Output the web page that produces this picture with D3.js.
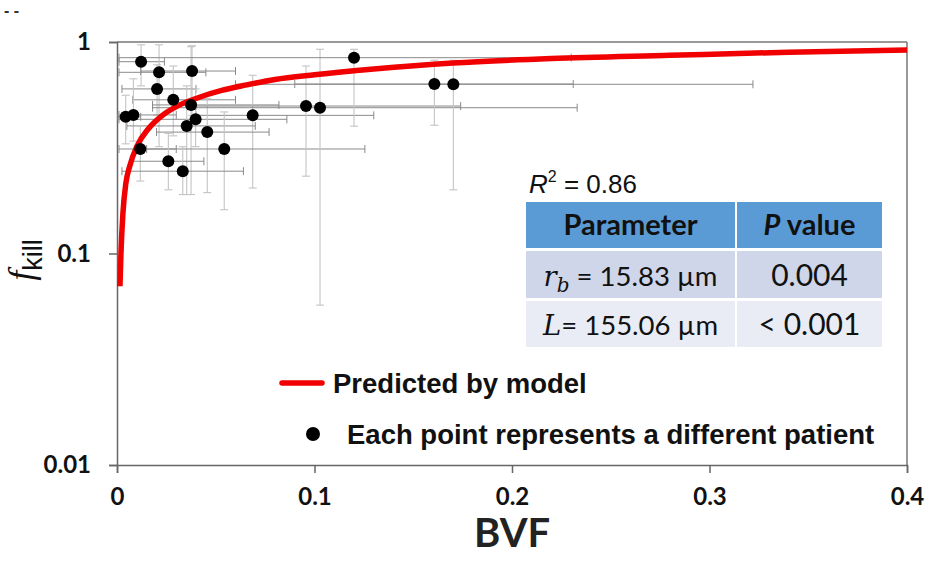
<!DOCTYPE html>
<html>
<head>
<meta charset="utf-8">
<script src="https://cdn.jsdelivr.net/npm/d3@7/dist/d3.min.js"></script>
<style>
  body { margin: 0; background: #fff; }
  svg { display: block; }
</style>
</head>
<body>
<div id="chart"></div>
<script>
// Patient points
const bvf      = [0.0122, 0.0213, 0.038, 0.0203, 0.0285, 0.0375, 0.0044, 0.0083, 0.0687, 0.0398, 0.0353,
                  0.0457, 0.0118, 0.0543, 0.026, 0.0333, 0.0957, 0.1028, 0.12, 0.1607, 0.1703];
const fkill    = [0.807, 0.719, 0.729, 0.600, 0.533, 0.504, 0.443, 0.452, 0.450, 0.431, 0.401,
                  0.375, 0.312, 0.312, 0.273, 0.245, 0.498, 0.489, 0.843, 0.633, 0.631];
const bvfLo    = [0.001, 0.001, 0.012, 0.0025, 0.008, 0.018, 0.0005, 0.001, 0.04, 0.001, 0.005,
                  0.02, 0.001, 0.015, 0.0076, 0.0025, 0.04, 0.018, 0.001, 0.09, 0.06];
const bvfHi    = [0.024, 0.045, 0.06, 0.04, 0.06, 0.082, 0.012, 0.03, 0.13, 0.086, 0.07,
                  0.077, 0.03, 0.1255, 0.044, 0.064, 0.174, 0.233, 0.23, 0.231, 0.322];
const fkillLo  = [0.62, 0.32, 0.45, 0.45, 0.36, 0.19, 0.33, 0.34, 0.204, 0.32, 0.19,
                  0.194, 0.22, 0.161, 0.2, 0.19, 0.232, 0.057, 0.4, 0.404, 0.2];
const fkillHi  = [0.97, 0.97, 0.96, 0.78, 0.77, 0.95, 0.56, 0.67, 0.696, 0.6, 0.62,
                  0.54, 0.4, 0.467, 0.37, 0.32, 0.77, 0.924, 0.924, 0.82, 0.82];

// Model curve, sampled off the figure
const curveBvf   = [0.0015, 0.002, 0.003, 0.0045, 0.0065, 0.01, 0.016, 0.023, 0.031, 0.041, 0.053,
                    0.065, 0.08, 0.1, 0.13, 0.17, 0.22, 0.28, 0.34, 0.4];
const curveFkill = [0.07, 0.1, 0.155, 0.215, 0.26, 0.32, 0.39, 0.45, 0.5, 0.545, 0.59,
                    0.625, 0.665, 0.7, 0.745, 0.795, 0.835, 0.865, 0.895, 0.917];

const xTicks = [0, 0.1, 0.2, 0.3, 0.4];
const yTicks = [0.01, 0.1, 1];

const tableHeader = ["Parameter", "P value"];
const tableRows = [
  ["r_b", " = 15.83 µm", "0.004"],
  ["L", "= 155.06 µm", "< 0.001"]
];

const width = 929, height = 561;
const mLeft = 117, mRight = 907, mTop = 42, mBottom = 465;

const svg = d3.select("#chart").append("svg")
  .attr("width", width).attr("height", height);

const x = d3.scaleLinear().domain([0, 0.4]).range([mLeft, mRight]);
const y = d3.scaleLog().domain([0.01, 1]).range([mBottom, mTop]);

const tickFont = "Lato, 'Open Sans', sans-serif";

// frame
svg.append("line").attr("x1", mLeft).attr("x2", mRight).attr("y1", mTop).attr("y2", mTop)
  .attr("stroke", "#777").attr("stroke-width", 1.5);
svg.append("line").attr("x1", mRight).attr("x2", mRight).attr("y1", mTop).attr("y2", mBottom)
  .attr("stroke", "#777").attr("stroke-width", 1.5);

// axes
const xAxis = svg.append("g").attr("transform", `translate(0,${mBottom})`)
  .call(d3.axisBottom(x).tickValues(xTicks).tickSize(8).tickPadding(15)
    .tickFormat(d => d === 0 ? "0" : d3.format(".1f")(d)));
const yAxis = svg.append("g").attr("transform", `translate(${mLeft},0)`)
  .call(d3.axisLeft(y).tickValues(yTicks).tickSize(8).tickPadding(18)
    .tickFormat(d => d >= 1 ? "1" : d3.format(".2~f")(d)));

[xAxis, yAxis].forEach(g => {
  g.select(".domain").attr("stroke", "#666").attr("stroke-width", 1.5);
  g.selectAll(".tick line").attr("stroke", "#666").attr("stroke-width", 1.5);
  g.selectAll(".tick text").attr("fill", "#111").attr("font-family", tickFont)
    .attr("font-weight", "bold").attr("font-size", 24);
});

// error bars
const pts = bvf.map((v, i) => ({x: v, y: fkill[i], xl: bvfLo[i], xh: bvfHi[i], yl: fkillLo[i], yh: fkillHi[i]}));
const cap = 4;
const eb = svg.append("g");
pts.forEach(p => {
  eb.append("line").attr("x1", x(p.x)).attr("x2", x(p.x)).attr("y1", y(p.yl)).attr("y2", y(p.yh))
    .attr("stroke", "#c4c4c4").attr("stroke-width", 1.1);
  [p.yl, p.yh].forEach(v => eb.append("line")
    .attr("x1", x(p.x) - cap).attr("x2", x(p.x) + cap).attr("y1", y(v)).attr("y2", y(v))
    .attr("stroke", "#c4c4c4").attr("stroke-width", 1.1));
  eb.append("line").attr("x1", x(p.xl)).attr("x2", x(p.xh)).attr("y1", y(p.y)).attr("y2", y(p.y))
    .attr("stroke", "#8a8a8a").attr("stroke-width", 1);
  [p.xl, p.xh].forEach(v => eb.append("line")
    .attr("x1", x(v)).attr("x2", x(v)).attr("y1", y(p.y) - cap).attr("y2", y(p.y) + cap)
    .attr("stroke", "#8a8a8a").attr("stroke-width", 1));
});

// model curve
const line = d3.line().x(d => x(d[0])).y(d => y(d[1])).curve(d3.curveMonotoneX);
svg.append("path").datum(curveBvf.map((v, i) => [v, curveFkill[i]]))
  .attr("d", line).attr("fill", "none").attr("stroke", "#f00000").attr("stroke-width", 5.5);

// points
svg.append("g").selectAll("circle").data(pts).join("circle")
  .attr("cx", d => x(d.x)).attr("cy", d => y(d.y)).attr("r", 6).attr("fill", "#000");

// axis titles
svg.append("text").attr("x", (mLeft + mRight) / 2).attr("y", 547).attr("text-anchor", "middle")
  .attr("font-family", tickFont).attr("font-weight", "bold").attr("font-size", 40).attr("fill", "#222")
  .text("BVF");
const yt = svg.append("text").attr("transform", "translate(33,260) rotate(-90)")
  .attr("text-anchor", "middle").attr("font-family", "Liberation Sans, Arial, sans-serif")
  .attr("font-size", 27).attr("fill", "#111");
yt.append("tspan").attr("font-family", "'Liberation Serif', serif").attr("font-style", "italic")
  .attr("font-size", 36).text("f");
yt.append("tspan").attr("dy", 9).text("kill");

// R^2 + table
const rt = svg.append("text").attr("x", 529).attr("y", 193)
  .attr("font-family", "Liberation Sans, Arial, sans-serif").attr("font-size", 26).attr("fill", "#111");
rt.append("tspan").attr("font-style", "italic").text("R");
rt.append("tspan").attr("font-size", 16).attr("dy", -11).text("2");
rt.append("tspan").attr("dy", 11).text(" = 0.86");

const colX = [526, 737], colW = [209, 145];
const rowY = [202, 251, 301], rowH = [46, 47, 46];
const rowFill = ["#5b9bd5", "#cfd6ea", "#e9ecf5"];
const tableFont = "Lato, 'Open Sans', sans-serif";
rowY.forEach((ry, r) => colX.forEach((cx, c) => {
  svg.append("rect").attr("x", cx).attr("y", ry).attr("width", colW[c]).attr("height", rowH[r])
    .attr("fill", rowFill[r]);
}));
svg.append("text").attr("x", colX[0] + colW[0] / 2).attr("y", 235).attr("text-anchor", "middle")
  .attr("font-family", tableFont).attr("font-weight", "bold").attr("font-size", 29).attr("fill", "#111")
  .text(tableHeader[0]);
const hdr2 = svg.append("text").attr("x", colX[1] + colW[1] / 2).attr("y", 235).attr("text-anchor", "middle")
  .attr("font-family", tableFont).attr("font-weight", "bold").attr("font-size", 29).attr("fill", "#111");
hdr2.append("tspan").attr("font-style", "italic").text(tableHeader[1].split(" ")[0]);
hdr2.append("tspan").text(" " + tableHeader[1].split(" ")[1]);

tableRows.forEach((row, i) => {
  const by = [286, 335][i];
  const t = svg.append("text").attr("x", colX[0] + colW[0] / 2).attr("y", by).attr("text-anchor", "middle")
    .attr("font-family", tableFont).attr("font-size", 27.5).attr("fill", "#111");
  const sym = row[0].split("_");
  t.append("tspan").attr("font-family", "'DejaVu Serif', serif").attr("font-style", "italic").text(sym[0]);
  if (sym[1]) {
    t.append("tspan").attr("font-family", "'DejaVu Serif', serif").attr("font-style", "italic")
      .attr("font-size", 20).attr("dy", 6).text(sym[1]);
    t.append("tspan").attr("dy", -6).text(row[1]);
  } else {
    t.append("tspan").text(row[1]);
  }
  svg.append("text").attr("x", colX[1] + colW[1] / 2).attr("y", by).attr("text-anchor", "middle")
    .attr("font-family", tableFont).attr("font-size", 30).attr("fill", "#111").text(row[2]);
});

// legend
const legFont = "'Liberation Sans', Arial, sans-serif";
svg.append("line").attr("x1", 282).attr("x2", 322).attr("y1", 383).attr("y2", 383)
  .attr("stroke", "#f00000").attr("stroke-width", 5.5).attr("stroke-linecap", "round");
svg.append("text").attr("x", 333).attr("y", 393).attr("font-family", legFont).attr("font-weight", "bold")
  .attr("font-size", 27.5).attr("fill", "#111").text("Predicted by model");
svg.append("circle").attr("cx", 313).attr("cy", 434).attr("r", 7).attr("fill", "#000");
svg.append("text").attr("x", 347).attr("y", 444).attr("font-family", legFont).attr("font-weight", "bold")
  .attr("font-size", 27.5).attr("fill", "#111").text("Each point represents a different patient");

// cropped remnant in the top-left corner
svg.append("text").attr("x", 4).attr("y", 16).attr("font-family", legFont).attr("font-weight", "bold")
  .attr("font-size", 16).attr("fill", "#333").text("- -");
</script>
</body>
</html>
